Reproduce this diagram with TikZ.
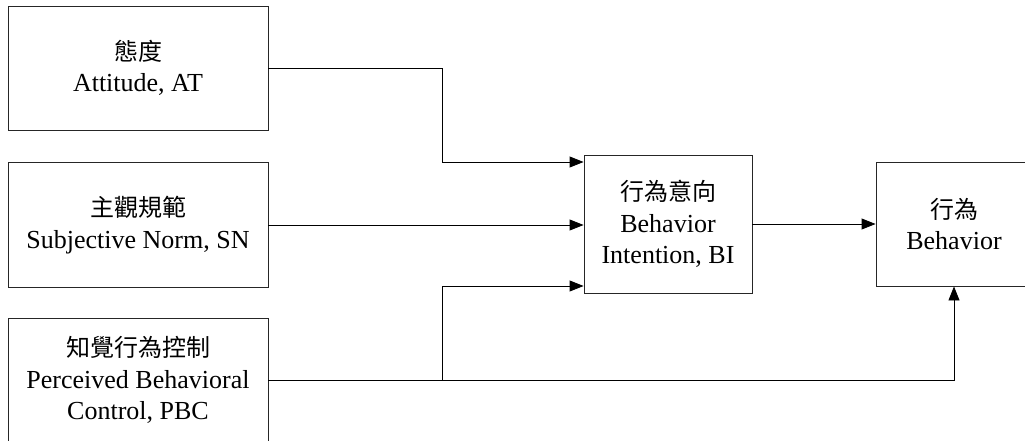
\documentclass[tikz,border=0pt]{standalone}
\usepackage{fontspec}
\setmainfont{Liberation Serif}
\newfontfamily\cjk{Noto Sans CJK TC}
\usetikzlibrary{arrows.meta}
\tikzset{
  model/.style={draw=black!85, line width=0.9pt, align=center, inner sep=0pt,
    font=\fontsize{26}{31.5}\selectfont},
  zh/.style={},
  arr/.style={draw=black, line width=0.9pt, -{Triangle[length=14pt,width=11pt]}}
}
\newcommand{\zh}[1]{{\cjk\fontsize{24}{31.5}\selectfont #1}}
\begin{document}
\begin{tikzpicture}[x=1pt,y=-1pt]
\useasboundingbox (0,0) rectangle (1025,441);
\clip (0,0) rectangle (1025,441);
\fill[white] (0,0) rectangle (1025,441);

% constructs of the model
\node[model, minimum width=260pt, minimum height=124pt] (at)  at (138,68)  {\zh{態度}\\Attitude, AT};
\node[model, minimum width=260pt, minimum height=125pt] (sn)  at (138,225) {\zh{主觀規範}\\Subjective Norm, SN};
\node[model, minimum width=260pt, minimum height=124pt] (pbc) at (138,380) {\zh{知覺行為控制}\\Perceived Behavioral\\Control, PBC};
\node[model, minimum width=168pt, minimum height=138pt] (bi)  at (668,224) {\zh{行為意向}\\Behavior\\Intention, BI};
\node[model, minimum width=156pt, minimum height=124pt] (beh) at (954,224) {\zh{行為}\\Behavior};

% connection points on the intention box
\coordinate (inA) at ([yshift=62pt]bi.west);
\coordinate (inC) at ([yshift=-62pt]bi.west);
\coordinate (split) at (442,380);

% paths
\draw[arr] (at.east) -| (split |- inA) -- (inA);
\draw[arr] (sn.east) -- (sn.east -| bi.west);
\draw[arr] (split) |- (inC);
\draw[arr] (pbc.east) -| (beh.south);
\draw[arr] (bi.east) -- (beh.west);
\end{tikzpicture}
\end{document}
